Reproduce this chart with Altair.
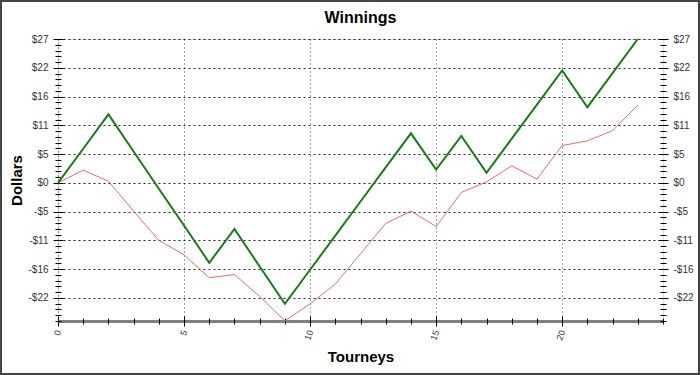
import altair as alt
import pandas as pd

tourneys = list(range(24))
green_vals = [0, 6.4, 12.86, 5.9, -1.1, -8.0, -15.0, -8.65, -15.7, -22.7, -16.3, -9.9,
              -3.5, 2.9, 9.3, 2.5, 8.8, 1.9, 8.3, 14.7, 21.1, 14.2, 20.6, 27.0]
red_vals = [0, 2.4, 0.3, -5.3, -10.8, -13.5, -17.8, -17.2, -21.3, -25.9, -22.7, -19.0,
            -13.3, -7.6, -5.3, -8.2, -1.8, 0.2, 3.2, 0.7, 7.0, 7.9, 9.8, 14.6]
y_major = [27, 21.6, 16.2, 10.8, 5.4, 0, -5.4, -10.8, -16.2, -21.6]
y_minor = [round(-25.92 + 1.08 * i, 2) for i in range(50)]
x_major = [0, 5, 10, 15, 20]
x_minor = list(range(25))

df = pd.DataFrame({"x": tourneys, "green": green_vals, "red": red_vals})

FONT = "Liberation Sans"
xs = alt.Scale(domain=[0, 24], nice=False, zero=False)
ys = alt.Scale(domain=[-25.92, 27], nice=False, zero=False)
label_expr = "datum.value < 0 ? '-$' + format(abs(datum.value), '.0f') : '$' + format(datum.value, '.0f')"

base = alt.Chart(df)

# grid + bottom domain + zero line
zero = base.transform_calculate(zero="0").mark_rule(color="#000000", strokeWidth=1).encode(
    x=alt.X("x:Q", scale=xs, axis=alt.Axis(values=x_major, grid=True, gridDash=[1, 3],
                                           gridColor="#444444", labels=False, ticks=False,
                                           domain=True, domainColor="#808080", domainWidth=3,
                                           title=None, orient="bottom")),
    y=alt.Y("zero:Q", scale=ys, axis=alt.Axis(values=y_major, grid=True, gridDash=[2, 3],
                                              gridColor="#222222", labels=False, ticks=False,
                                              domain=False, title=None, orient="left")),
)

red = base.mark_line(color="#f06a6a", strokeWidth=1).encode(
    x=alt.X("x:Q", scale=xs, axis=alt.Axis(values=x_major, grid=False, domain=False,
                                           orient="bottom",
                                           ticks=True, tickSize=10, offset=-5, tickColor="#000000",
                                           labelAngle=290, labelFontSize=9, labelColor="#333333",
                                           labelFont=FONT, labelPadding=4,
                                           title="Tourneys", titleFont=FONT, titleFontSize=15,
                                           titleFontWeight="bold", titlePadding=8)),
    y=alt.Y("red:Q", scale=ys, axis=alt.Axis(values=y_major, grid=False, domain=False,
                                             orient="left", tickSize=10, offset=-5,
                                             tickColor="#000000", labelExpr=label_expr,
                                             labelFontSize=10, labelColor="#333333", labelFont=FONT,
                                             labelPadding=5, title="Dollars", titleFont=FONT,
                                             titleFontSize=15, titleFontWeight="bold",
                                             titlePadding=3)),
)

green = base.mark_line(color="#1b7a1b", strokeWidth=2).encode(
    x=alt.X("x:Q", scale=xs, axis=alt.Axis(values=x_minor, grid=False, domain=False, labels=False,
                                           orient="bottom",
                                           tickSize=6, offset=-3, tickColor="#000000", title=None)),
    y=alt.Y("green:Q", scale=ys, axis=alt.Axis(values=y_major, grid=False, domain=False,
                                               orient="right", tickSize=10, offset=-5,
                                               tickColor="#000000", labelExpr=label_expr,
                                               labelFontSize=10, labelColor="#333333",
                                               labelFont=FONT, labelPadding=5, title=None)),
)

minor_left = base.mark_point(opacity=0).encode(
    x=alt.X("x:Q", scale=xs, axis=None),
    y=alt.Y("red:Q", scale=ys, axis=alt.Axis(values=y_minor, grid=False, domain=False,
                                             labels=False, orient="left", tickSize=6, offset=-3,
                                             tickColor="#000000", title=None)),
)
minor_right = base.mark_point(opacity=0).encode(
    x=alt.X("x:Q", scale=xs, axis=None),
    y=alt.Y("green:Q", scale=ys, axis=alt.Axis(values=y_minor, grid=False, domain=False,
                                               labels=False, orient="right", tickSize=6, offset=-3,
                                               tickColor="#000000", title=None)),
)

frame = alt.Chart(pd.DataFrame({"k": [0]})).mark_rect(
    fill=None, stroke="#444444", strokeWidth=2
).encode(x=alt.value(-57), x2=alt.value(641), y=alt.value(-38), y2=alt.value(335))

chart = alt.layer(zero, minor_left, minor_right, red, green, frame).resolve_axis(
    x="independent", y="independent"
).properties(
    width=605, height=282,
    autosize=alt.AutoSizeParams(type="none"),
    padding={"left": 58, "top": 39, "right": 37, "bottom": 54},
    title=alt.TitleParams("Winnings", font=FONT, fontSize=16, fontWeight="bold",
                          anchor="middle", offset=-26, color="#000000"),
).configure_view(stroke="#000000", strokeWidth=1, fill="#d3d3d3").configure(background="#ffffff")

chart.save("out.html", embed_options={"renderer": "svg", "actions": False})
